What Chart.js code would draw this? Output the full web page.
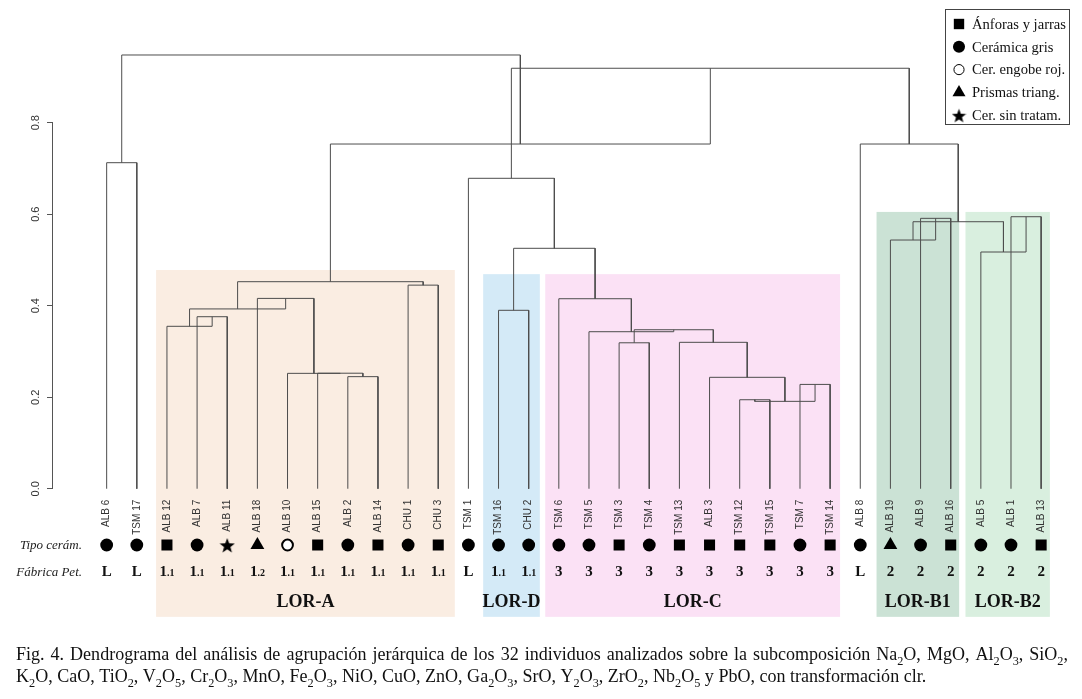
<!DOCTYPE html>
<html>
<head>
<meta charset="utf-8">
<title>Dendrograma</title>
<script src="https://cdn.jsdelivr.net/npm/chart.js@4.4.1/dist/chart.umd.min.js"></script>
<style>
  html, body { margin: 0; padding: 0; background: #fff; }
  #wrap { position: relative; width: 1082px; height: 699px; }
</style>
</head>
<body>
<div id="wrap"><canvas id="dendro"></canvas></div>
<script>
// leaves, in the order they are plotted
const leafNames = ['ALB 6', 'TSM 17', 'ALB 12', 'ALB 7', 'ALB 11', 'ALB 18', 'ALB 10', 'ALB 15',
  'ALB 2', 'ALB 14', 'CHU 1', 'CHU 3', 'TSM 1', 'TSM 16', 'CHU 2', 'TSM 6', 'TSM 5', 'TSM 3',
  'TSM 4', 'TSM 13', 'ALB 3', 'TSM 12', 'TSM 15', 'TSM 7', 'TSM 14', 'ALB 8', 'ALB 19', 'ALB 9',
  'ALB 16', 'ALB 5', 'ALB 1', 'ALB 13'];
// s = square, c = circle, o = open circle, t = triangle, e = star
const tipoCeram = ['c', 'c', 's', 'c', 'e', 't', 'o', 's', 'c', 's', 'c', 's', 'c', 'c', 'c', 'c',
  'c', 's', 'c', 's', 's', 's', 's', 'c', 's', 'c', 't', 'c', 's', 'c', 'c', 's'];
const fabricaPet = ['L', 'L', '1.1', '1.1', '1.1', '1.2', '1.1', '1.1', '1.1', '1.1', '1.1', '1.1',
  'L', '1.1', '1.1', '3', '3', '3', '3', '3', '3', '3', '3', '3', '3', 'L', '2', '2', '2', '2', '2', '2'];

// merges in hclust style: negative = leaf number (1-based), positive = earlier merge
const mergeA = [-4, -3, -9, -8, -7, -6, 2, -11, 7, -1, -14, -22, -24, 12, -21, -20,
  -18, 17, -17, -16, 11, -13, -28, -27, -31, -30, 24, -26, 22, 9, 10];
const mergeB = [-5, 1, -10, 3, 4, 5, 6, -12, 8, -2, -15, -23, -25, 13, 14, 15,
  -19, 16, 18, 19, 20, 21, -29, 23, -32, 25, 26, 27, 28, 29, 30];
const mergeHeight = [0.376, 0.355, 0.245, 0.2525, 0.2522, 0.416, 0.393, 0.445, 0.4525, 0.7126,
  0.390, 0.1945, 0.228, 0.191, 0.2435, 0.320, 0.319, 0.3475, 0.3432, 0.4153, 0.5255, 0.6785,
  0.591, 0.5436, 0.5945, 0.5174, 0.5836, 0.7534, 0.919, 0.7534, 0.948];

// shaded groups, extent in leaf units and top in height units
const groupNames = ['LOR-A', 'LOR-D', 'LOR-C', 'LOR-B1', 'LOR-B2'];
const groupStart = [1.64, 12.49, 14.55, 25.54, 28.49];
const groupEnd = [11.55, 14.37, 24.33, 28.28, 31.29];
const groupTop = [0.478, 0.469, 0.469, 0.605, 0.605];
const groupColors = ['#FAEDE2', '#D4EAF7', '#FBE1F5', '#CBE2D5', '#D9EFDF'];

const yTicks = [0, 0.2, 0.4, 0.6, 0.8];

const legendLabels = ['Ánforas y jarras', 'Cerámica gris', 'Cer. engobe roj.', 'Prismas triang.', 'Cer. sin tratam.'];
const legendSymbols = ['s', 'c', 'o', 't', 'e'];

const captionLines = [
  'Fig. 4. Dendrograma del análisis de agrupación jerárquica de los 32 individuos analizados sobre la subcomposición Na_2O, MgO, Al_2O_3, SiO_2,',
  'K_2O, CaO, TiO_2, V_2O_5, Cr_2O_3, MnO, Fe_2O_3, NiO, CuO, ZnO, Ga_2O_3, SrO, Y_2O_3, ZrO_2, Nb_2O_5 y PbO, con transformación clr.'
];

//--- layout
const SYMBOL_Y = -0.123;
const BOX_BOTTOM = -0.28;
const SERIF = '"Liberation Serif", "Times New Roman", serif';
const SANS = '"Liberation Sans", Arial, sans-serif';

function makeStar(size) {
  const c = document.createElement('canvas');
  c.width = size; c.height = size;
  const g = c.getContext('2d');
  const R = size / 2, r = R * 0.42;
  g.beginPath();
  for (let k = 0; k < 10; k++) {
    const a = -Math.PI / 2 + k * Math.PI / 5;
    const rad = k % 2 ? r : R;
    g.lineTo(R + rad * Math.cos(a), R + 1 + rad * Math.sin(a));
  }
  g.closePath();
  g.fillStyle = '#000';
  g.fill();
  return c;
}
const star = makeStar(16);
const starSmall = makeStar(15);

function symbolStyle(code, small) {
  const k = small ? 0.94 : 1;
  switch (code) {
    case 's': return { pointStyle: 'rect', radius: 7.8 * k, fill: '#000', border: 0 };
    case 'c': return { pointStyle: 'circle', radius: 6.4 * k, fill: '#000', border: 0 };
    case 'o': return { pointStyle: 'circle', radius: 5.4 * k, fill: '#fff', border: 2 };
    case 't': return { pointStyle: 'triangle', radius: 8 * k, fill: '#000', border: 0 };
    default: return { pointStyle: small ? starSmall : star, radius: 8 * k, fill: '#000', border: 0 };
  }
}

// leaf positions and heights of every node
const nodePos = [], nodeH = [];
const posOf = ref => ref < 0 ? -ref - 1 : nodePos[ref - 1];
const hOf = ref => ref < 0 ? 0 : nodeH[ref - 1];
const dendroData = [];
mergeHeight.forEach((h, k) => {
  const pa = posOf(mergeA[k]), pb = posOf(mergeB[k]);
  dendroData.push({ x: pa, y: hOf(mergeA[k]) }, { x: pa, y: h }, { x: pb, y: h }, { x: pb, y: hOf(mergeB[k]) }, { x: pb, y: null });
  nodePos.push((pa + pb) / 2);
  nodeH.push(h);
});

const symStyles = tipoCeram.map(c => symbolStyle(c, false));

function runsOf(s) {
  const out = [];
  let buf = '';
  for (let i = 0; i < s.length; i++) {
    if (s[i] === '_') {
      if (buf) out.push({ t: buf, sub: false });
      buf = '';
      out.push({ t: s[i + 1], sub: true });
      i++;
    } else buf += s[i];
  }
  if (buf) out.push({ t: buf, sub: false });
  return out;
}

function richWidth(ctx, s, size) {
  let w = 0;
  runsOf(s).forEach(r => {
    ctx.font = (r.sub ? size * 0.68 : size) + 'px ' + SERIF;
    w += ctx.measureText(r.t).width;
  });
  return w;
}

function drawRich(ctx, s, x, y, size) {
  runsOf(s).forEach(r => {
    ctx.font = (r.sub ? size * 0.68 : size) + 'px ' + SERIF;
    ctx.fillText(r.t, x, r.sub ? y + size * 0.27 : y);
    x += ctx.measureText(r.t).width;
  });
  return x;
}

const decorations = {
  id: 'decorations',
  beforeDatasetsDraw(chart) {
    const { ctx, scales: { x, y } } = chart;
    ctx.save();
    groupNames.forEach((g, i) => {
      const x0 = x.getPixelForValue(groupStart[i]);
      const x1 = x.getPixelForValue(groupEnd[i]);
      const y0 = y.getPixelForValue(groupTop[i]);
      const y1 = y.getPixelForValue(BOX_BOTTOM);
      ctx.fillStyle = groupColors[i];
      ctx.fillRect(x0, y0, x1 - x0, y1 - y0);
    });
    ctx.restore();
  },
  afterDatasetsDraw(chart) {
    const { ctx, chartArea, scales: { x, y } } = chart;
    const y0 = y.getPixelForValue(0);
    ctx.save();

    // axis spine over the tick range only
    ctx.strokeStyle = '#555';
    ctx.lineWidth = 1;
    ctx.beginPath();
    ctx.moveTo(chartArea.left - 0.5, y.getPixelForValue(yTicks[0]));
    ctx.lineTo(chartArea.left - 0.5, y.getPixelForValue(yTicks[yTicks.length - 1]));
    ctx.stroke();

    // leaf labels
    ctx.fillStyle = '#333';
    ctx.font = '10px ' + SANS;
    ctx.textAlign = 'right';
    ctx.textBaseline = 'middle';
    leafNames.forEach((n, i) => {
      ctx.save();
      ctx.translate(x.getPixelForValue(i), y0 + 11);
      ctx.rotate(-Math.PI / 2);
      ctx.fillText(n, 0, 0);
      ctx.restore();
    });

    // row titles
    ctx.fillStyle = '#222';
    ctx.textBaseline = 'alphabetic';
    ctx.textAlign = 'right';
    ctx.font = 'italic 13px ' + SERIF;
    ctx.fillText('Tipo cerám.', 82, y0 + 60);
    ctx.fillText('Fábrica Pet.', 82, y0 + 87);

    // fabric labels
    ctx.fillStyle = '#111';
    ctx.textAlign = 'left';
    fabricaPet.forEach((f, i) => {
      const main = f.split('.')[0];
      const rest = f.length > 1 ? f.slice(main.length) : '';
      ctx.font = 'bold 15px ' + SERIF;
      const w1 = ctx.measureText(main).width;
      ctx.font = 'bold 10px ' + SERIF;
      const w2 = rest ? ctx.measureText(rest).width : 0;
      let px = x.getPixelForValue(i) - (w1 + w2) / 2;
      ctx.font = 'bold 15px ' + SERIF;
      ctx.fillText(main, px, y0 + 87);
      if (rest) {
        ctx.font = 'bold 10px ' + SERIF;
        ctx.fillText(rest, px + w1, y0 + 87);
      }
    });

    // group names
    ctx.textAlign = 'center';
    ctx.font = 'bold 18px ' + SERIF;
    groupNames.forEach((g, i) => {
      const cx = (x.getPixelForValue(groupStart[i]) + x.getPixelForValue(groupEnd[i])) / 2;
      ctx.fillText(g, cx, y0 + 118);
    });

    // legend
    const lx = 945, ly = 9;
    ctx.fillStyle = '#fff';
    ctx.fillRect(lx, ly, 124, 115);
    ctx.strokeStyle = '#444';
    ctx.lineWidth = 1;
    ctx.strokeRect(lx + 0.5, ly + 0.5, 124, 115);
    ctx.textAlign = 'left';
    ctx.textBaseline = 'middle';
    ctx.font = '14.6px ' + SERIF;
    legendLabels.forEach((lab, i) => {
      const cy = ly + 15 + i * 22.8;
      const st = symbolStyle(legendSymbols[i], true);
      ctx.fillStyle = st.fill;
      ctx.strokeStyle = '#000';
      Chart.helpers.drawPoint(ctx, { pointStyle: st.pointStyle, radius: st.radius, rotation: 0, borderWidth: st.border }, lx + 14, cy);
      ctx.fillStyle = '#111';
      ctx.fillText(lab, lx + 27, cy + 1);
    });

    // caption
    ctx.textBaseline = 'alphabetic';
    ctx.fillStyle = '#111';
    const size = 16 * 911 / richWidth(ctx, captionLines[1], 16);
    const words = captionLines[0].split(' ');
    const ww = words.map(w => richWidth(ctx, w, size));
    const gap = (1052 - ww.reduce((a, b) => a + b, 0)) / (words.length - 1);
    let cx = 16;
    words.forEach((w, i) => { drawRich(ctx, w, cx, 660, size); cx += ww[i] + gap; });
    drawRich(ctx, captionLines[1], 16, 682, size);

    ctx.restore();
  }
};

new Chart(document.getElementById('dendro'), {
  type: 'scatter',
  data: {
    datasets: [{
      data: dendroData,
      showLine: true,
      spanGaps: false,
      borderColor: '#4d4d4d',
      borderWidth: 1,
      pointRadius: 0,
      pointHoverRadius: 0
    }, {
      data: leafNames.map((n, i) => ({ x: i, y: SYMBOL_Y })),
      showLine: false,
      pointStyle: symStyles.map(s => s.pointStyle),
      pointRadius: symStyles.map(s => s.radius),
      pointBackgroundColor: symStyles.map(s => s.fill),
      pointBorderColor: '#000',
      pointBorderWidth: symStyles.map(s => s.border)
    }]
  },
  options: {
    responsive: true,
    maintainAspectRatio: false,
    animation: false,
    layout: { padding: { top: 31.2, bottom: 73, left: 0, right: 3 } },
    plugins: { legend: { display: false }, tooltip: { enabled: false } },
    scales: {
      x: { type: 'linear', min: -1.78, max: 32.09, display: false },
      y: {
        min: -0.3,
        max: 1.0,
        afterFit: s => { s.width = 53; },
        afterBuildTicks: s => { s.ticks = yTicks.map(v => ({ value: v })); },
        border: { display: false },
        grid: { drawOnChartArea: false, drawTicks: true, tickLength: 6, color: '#555' },
        ticks: {
          minRotation: 90,
          maxRotation: 90,
          crossAlign: 'center',
          padding: 3,
          color: '#333',
          font: { family: SANS, size: 11 },
          callback: v => v.toFixed(1)
        }
      }
    }
  },
  plugins: [decorations]
});
</script>
</body>
</html>
